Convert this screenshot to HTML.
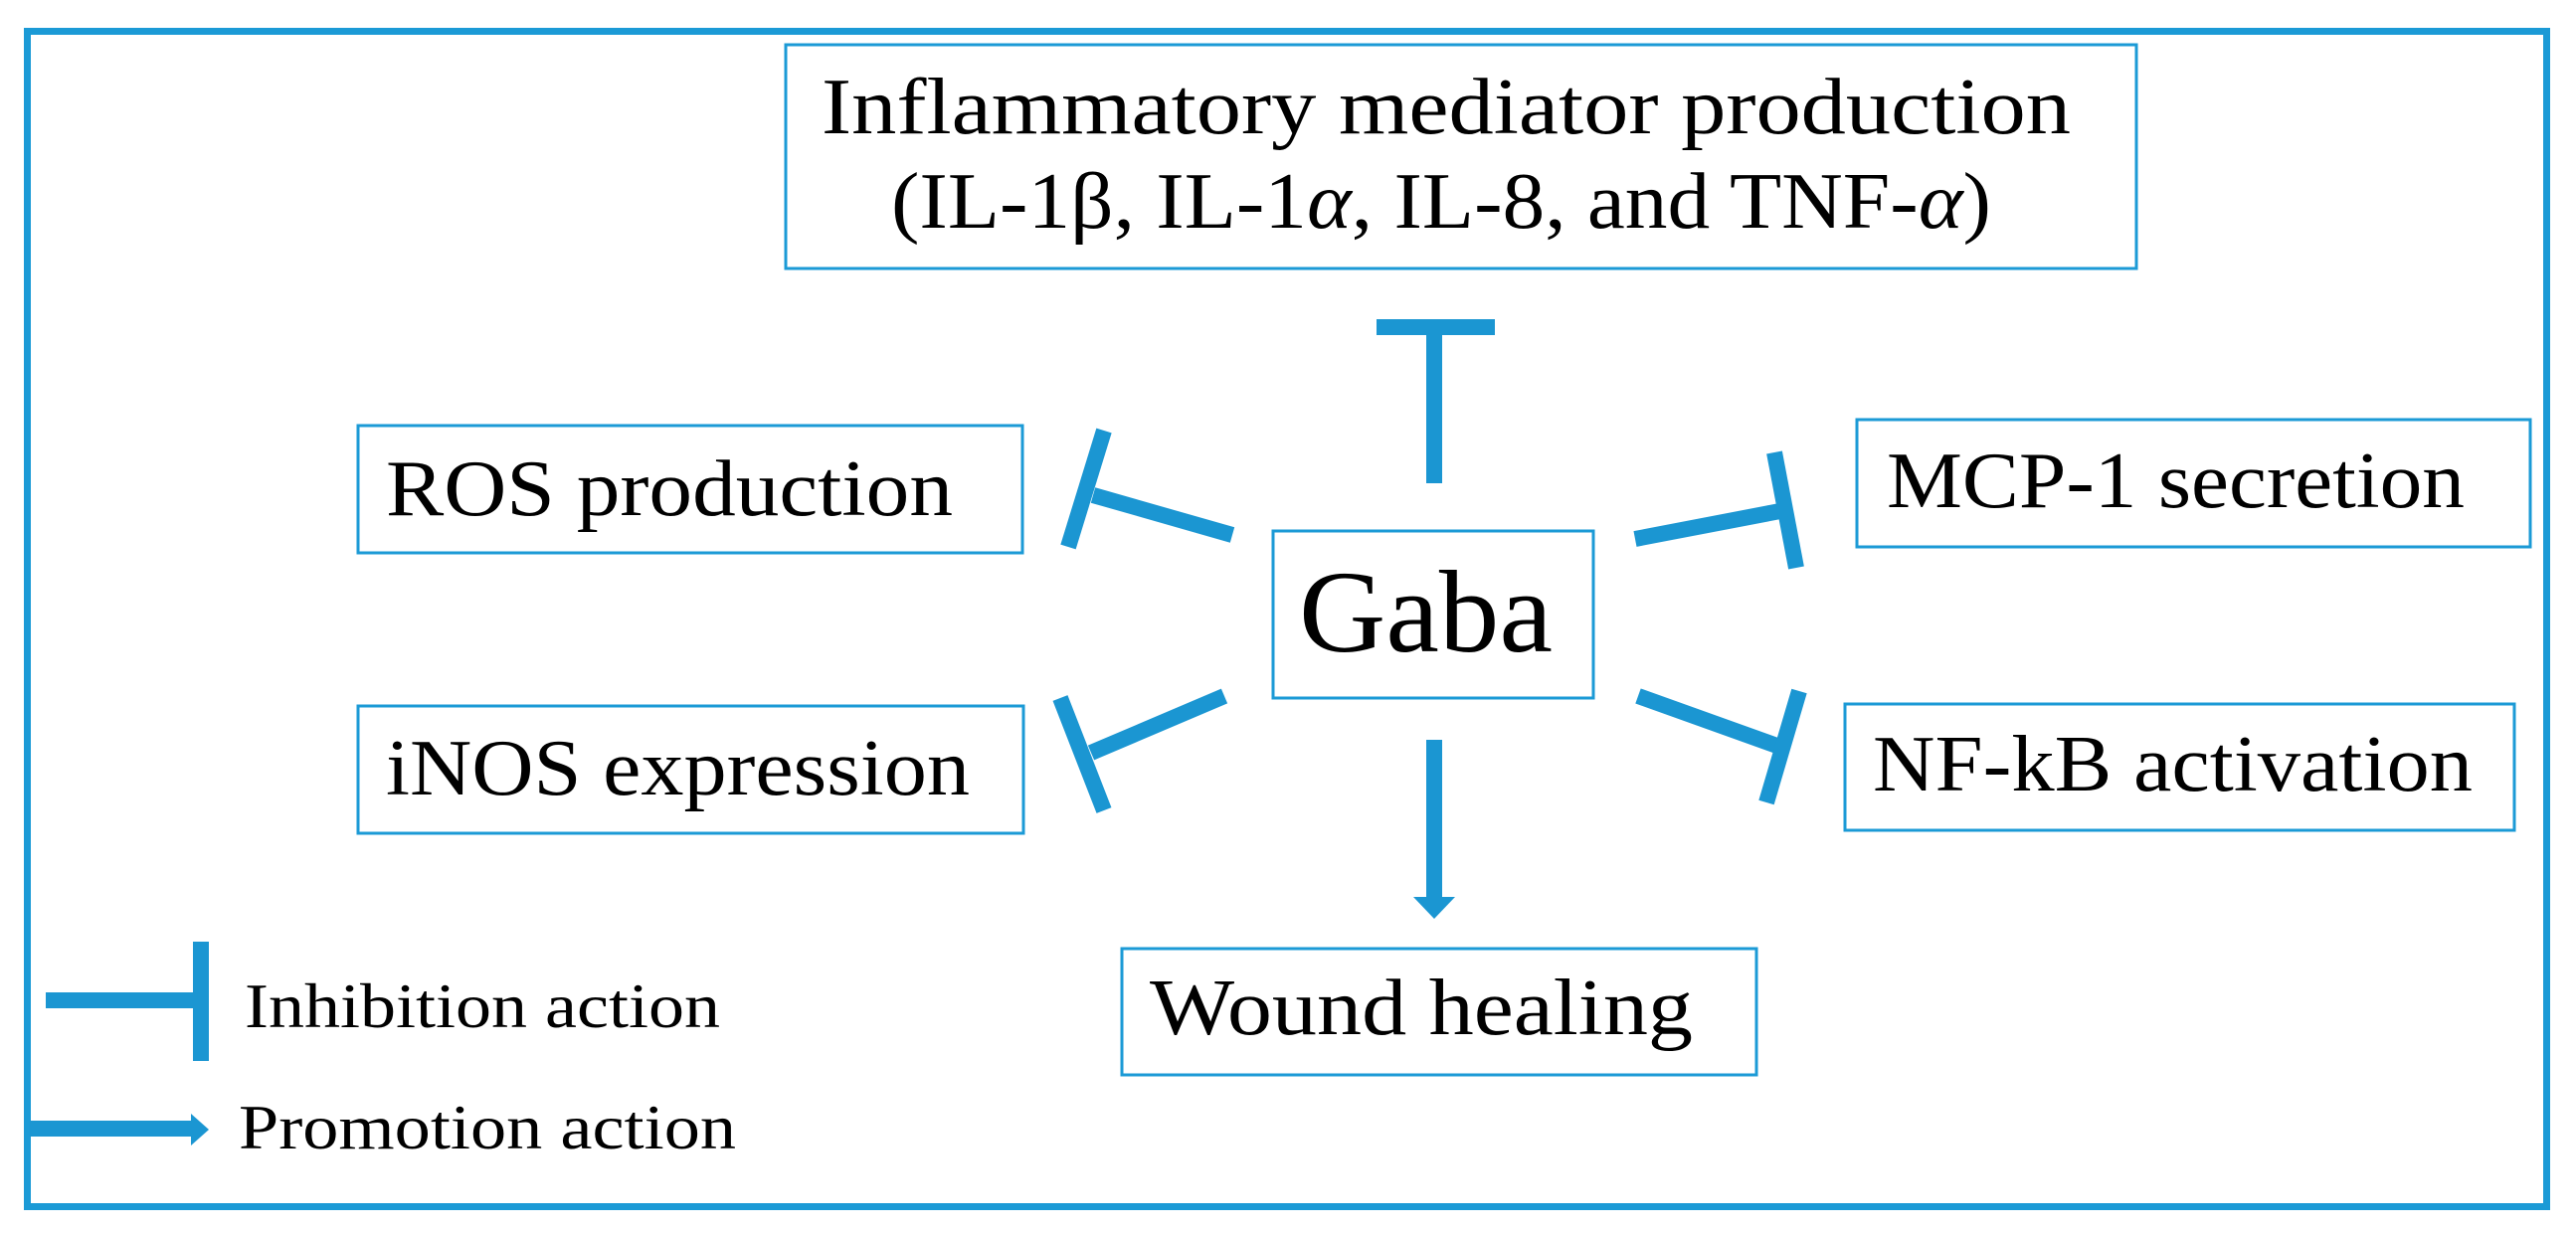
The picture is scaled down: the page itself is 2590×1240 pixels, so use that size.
<!DOCTYPE html>
<html><head><meta charset="utf-8"><style>
html,body{margin:0;padding:0;background:#fff;}
svg{display:block;}
text{font-family:"Liberation Serif",serif;fill:#000;}
</style></head><body>
<svg width="2590" height="1240" viewBox="0 0 2590 1240" xmlns="http://www.w3.org/2000/svg">
<rect x="0" y="0" width="2590" height="1240" fill="#fff"/>
<rect x="27.5" y="31.5" width="2533" height="1182" fill="none" stroke="#1b9ad6" stroke-width="7"/>
<g fill="none" stroke="#1b9ad6" stroke-width="3">
<rect x="790" y="45" width="1358" height="225"/>
<rect x="360" y="428" width="668" height="128"/>
<rect x="1867" y="422" width="677" height="128"/>
<rect x="1280" y="534" width="322" height="168"/>
<rect x="360" y="710" width="669" height="128"/>
<rect x="1855" y="708" width="673" height="127"/>
<rect x="1128" y="954" width="638" height="127"/>
</g>
<g font-size="80">
<text x="826" y="134" textLength="1256" lengthAdjust="spacingAndGlyphs">Inflammatory mediator production</text>
<text x="896" y="229" textLength="1106" lengthAdjust="spacingAndGlyphs">(IL-1β, IL-1<tspan font-style="italic">α</tspan>, IL-8, and TNF-<tspan font-style="italic">α</tspan>)</text>
<text x="388" y="518" textLength="570" lengthAdjust="spacingAndGlyphs">ROS production</text>
<text x="1897" y="510" textLength="581" lengthAdjust="spacingAndGlyphs">MCP-1 secretion</text>
<text x="388" y="799" textLength="587" lengthAdjust="spacingAndGlyphs">iNOS expression</text>
<text x="1883" y="795" textLength="603" lengthAdjust="spacingAndGlyphs">NF-kB activation</text>
<text x="1156" y="1040" textLength="546" lengthAdjust="spacingAndGlyphs">Wound healing</text>
</g>
<text x="1306" y="655" font-size="118" textLength="255" lengthAdjust="spacingAndGlyphs">Gaba</text>
<text x="246" y="1033" font-size="64" textLength="478" lengthAdjust="spacingAndGlyphs">Inhibition action</text>
<text x="240" y="1155" font-size="64" textLength="500" lengthAdjust="spacingAndGlyphs">Promotion action</text>
<g stroke="#1b96d2" stroke-width="16" fill="none" stroke-linecap="butt">
<line x1="1442" y1="329" x2="1442" y2="486"/>
<line x1="1384" y1="329" x2="1503" y2="329"/>
<line x1="1239" y1="538" x2="1099" y2="498"/>
<line x1="1110" y1="433" x2="1074" y2="550"/>
<line x1="1644" y1="542" x2="1795" y2="513"/>
<line x1="1784" y1="455" x2="1806" y2="571"/>
<line x1="1231" y1="700" x2="1097" y2="757"/>
<line x1="1066" y1="702" x2="1110" y2="815"/>
<line x1="1647" y1="700" x2="1795" y2="753"/>
<line x1="1809" y1="695" x2="1776" y2="807"/>
<line x1="1442" y1="744" x2="1442" y2="905"/>
<line x1="46" y1="1006" x2="197" y2="1006"/>
<line x1="202" y1="947" x2="202" y2="1067"/>
<line x1="30" y1="1135" x2="196" y2="1135"/>
</g>
<polygon points="1421,902 1463,902 1442,924" fill="#1b96d2"/>
<polygon points="192,1120 210,1136 192,1152" fill="#1b96d2"/>
</svg>
</body></html>
